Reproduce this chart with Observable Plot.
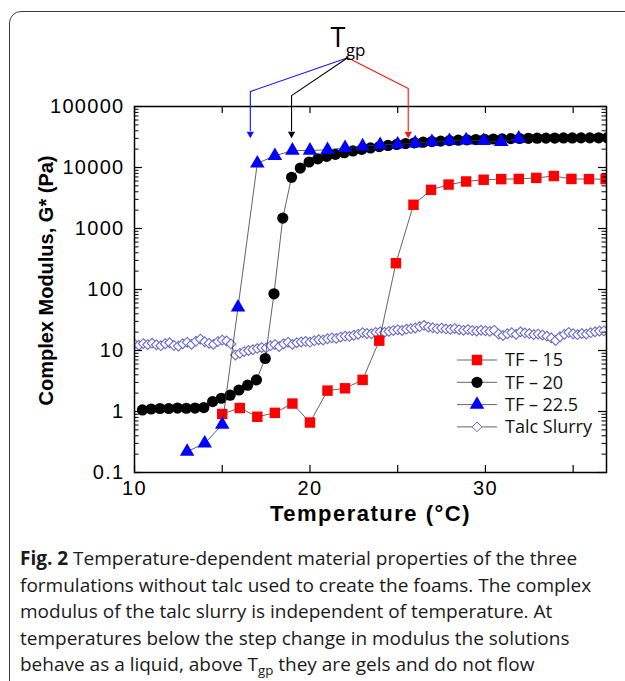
<!DOCTYPE html>
<html><head><meta charset="utf-8">
<script src="https://cdn.jsdelivr.net/npm/d3@7"></script>
<script src="https://cdn.jsdelivr.net/npm/@observablehq/plot@0.6"></script>
<style>
html,body{margin:0;padding:0;background:#fff;}
#wrap{position:relative;width:625px;height:681px;overflow:hidden;background:#fff;}
#border{position:absolute;left:9px;top:11px;width:640px;height:720px;border:1.5px solid #3c3c3c;border-radius:12px;}
#chart{position:absolute;left:0;top:0;}
#legend{position:absolute;left:0;top:0;pointer-events:none;}
#caption{position:absolute;left:20px;top:545px;font-family:"Open Sans",sans-serif;font-size:19px;line-height:26.5px;color:#1a1a1a;white-space:nowrap;}
#caption sub{font-size:0.7em;vertical-align:-0.3em;line-height:0;}
#chart g[aria-label="y-axis tick label"] text{letter-spacing:1.3px;}
#chart g[aria-label="x-axis tick label"] text{letter-spacing:1.3px;}
</style></head>
<body>
<div id="wrap">
  <div id="border"></div>
  <div id="chart"></div>
  <svg id="legend" width="625" height="681"></svg>
  <div id="caption"><b>Fig. 2</b> Temperature-dependent material properties of the three<br>formulations without talc used to create the foams. The complex<br>modulus of the talc slurry is independent of temperature. At<br>temperatures below the step change in modulus the solutions<br>behave as a liquid, above T<sub>gp</sub> they are gels and do not flow</div>
</div>
<script>
// ---------- data ----------
const seriesNames = ["TF – 15", "TF – 20", "TF – 22.5", "Talc Slurry"];

const tf15Temp = [15,16,17,18,19,20,21,22,23,23.95,24.9,25.9,26.9,27.9,28.9,29.9,30.9,31.9,32.9,33.9,34.9,35.9,36.85];
const tf15G    = [0.91,1.14,0.82,0.95,1.35,0.66,2.2,2.4,3.3,14.5,270,2450,4300,5250,5900,6300,6450,6500,6750,7250,6500,6450,6450];

const tf20Temp = [10.45,10.95,11.45,11.95,12.45,12.95,13.45,13.95,14.45,14.95,15.45,15.95,16.45,16.95,17.45,17.95,18.45,18.95,19.45,19.95,
                  20.45,20.95,21.45,21.95,22.45,22.95,23.45,23.95,24.45,24.95,25.45,25.95,26.45,26.95,27.45,27.95,28.45,28.95,29.45,29.95,
                  30.45,30.95,31.45,31.95,32.45,32.95,33.45,33.95,34.45,34.95,35.45,35.95,36.45,36.95];
const tf20G    = [1.06,1.10,1.12,1.12,1.14,1.13,1.14,1.16,1.45,1.65,1.85,2.25,2.7,3.3,7.4,85,1480,6900,9800,12300,
                  13900,15200,16400,17500,18700,19800,20900,22000,23000,23900,24700,25400,26000,26600,27100,27600,28000,28400,28700,29000,
                  29300,29500,29700,29900,30100,30200,30300,30400,30500,30500,30600,30600,30700,30700];

const tf225Temp = [13,14,15,15.9,17,18,19,20,21,22,23,24,25,26,26.95,27.95,28.9,29.9,30.9,31.9];
const tf225G    = [0.22,0.30,0.61,51,11700,15500,19000,19000,19500,21000,22300,23500,24000,25000,26300,27400,28000,27400,26300,29900];

const talcTemp = [10,10.25,10.5,10.75,11,11.25,11.5,11.75,12,12.25,12.5,12.75,13,13.25,13.5,13.75,14,14.25,14.5,14.75,
                  15,15.25,15.5,15.75,16,16.25,16.5,16.75,17,17.25,17.5,17.75,18,18.25,18.5,18.75,19,19.25,19.5,19.75,
                  20,20.25,20.5,20.75,21,21.25,21.5,21.75,22,22.25,22.5,22.75,23,23.25,23.5,23.75,24,24.25,24.5,24.75,
                  25,25.25,25.5,25.75,26,26.25,26.5,26.75,27,27.25,27.5,27.75,28,28.25,28.5,28.75,29,29.25,29.5,29.75,
                  30,30.25,30.5,30.75,31,31.25,31.5,31.75,32,32.25,32.5,32.75,33,33.25,33.5,33.75,34,34.25,34.5,34.75,
                  35,35.25,35.5,35.75,36,36.25,36.5,36.75];
const talcG    = [12.8,12.2,13.0,12.5,13.2,12.4,12.0,12.9,13.4,12.1,11.8,12.9,13.6,12.6,14.2,15.4,13.9,13.1,12.6,14.0,
                  14.8,14.3,12.8,8.4,9.0,9.6,10.0,10.3,10.8,11.2,11.0,12.0,12.5,11.6,12.9,13.6,12.6,13.4,13.8,14.1,
                  13.7,14.5,15.0,14.8,15.6,16.1,15.8,16.6,17.2,17.0,17.8,18.4,19.6,19.0,18.8,19.8,20.2,19.9,20.6,21.2,
                  21.8,21.3,22.4,22.8,23.4,24.6,25.8,24.2,23.6,22.8,23.3,22.6,22.2,22.9,21.9,21.4,22.0,21.2,20.8,21.5,
                  21.0,20.6,21.4,18.6,17.6,18.8,19.6,18.4,20.2,19.4,18.9,18.2,18.6,17.9,17.2,16.1,14.6,16.8,18.4,19.8,
                  18.8,18.2,19.0,18.6,19.6,20.2,20.8,21.0];

// axis ticks
const xDomain = [10, 36.9];
const yDomain = [0.1, 100000];
const xTicks = [10, 20, 30];
const xTickLabels = ["10", "20", "30"];
const xMinorTicks = [10, 15, 20, 25, 30, 35];
const yTicks = [0.1, 1, 10, 100, 1000, 10000, 100000];
const yTickLabels = ["0.1", "1", "10", "100", "1000", "10000", "100000"];
const yMinorTicks = yTicks.slice(0, -1).flatMap(d => [2,3,4,5,6,7,8,9].map(m => d * m));
const xTitle = "Temperature (°C)";
const yTitle = "Complex Modulus, G* (Pa)";

// T_gp annotation (arrow tips point at the gel-point temperatures)
const tgpLabels = ["TF – 22.5", "TF – 20", "TF – 15"];
const tgpTemp   = [16.6, 18.95, 25.6];
const tgpBendG  = [176000, 151000, 197000];
const tgpOrigin = {T: 22.15, G: 630000};
const tgpLineEndG = 40000;
const tgpHeadG = 35500;

// ---------- build ----------
const rows = (temps, vals, name) => temps.map((t, i) => ({T: t, G: vals[i], s: name}));
const d15 = rows(tf15Temp, tf15G, seriesNames[0]);
const d20 = rows(tf20Temp, tf20G, seriesNames[1]);
const d225 = rows(tf225Temp, tf225G, seriesNames[2]);
const dTalc = rows(talcTemp, talcG, seriesNames[3]);

const W = 625, H = 542;
const mL = 134, mR = 19, mT = 106, mB = 70;
const pw = W - mL - mR, ph = H - mT - mB;

const lineStyle = {x: "T", y: "G", stroke: "#3a3a3a", strokeWidth: 0.8, clip: true};
const arrowColors = ["#1010ff", "#000000", "#ff1010"];

const arrowMarks = tgpTemp.flatMap((t, i) => {
  const pts = [{T: tgpOrigin.T, G: tgpOrigin.G}, {T: t, G: tgpBendG[i]}, {T: t, G: tgpLineEndG}];
  return [
    Plot.line(pts, {x: "T", y: "G", stroke: arrowColors[i], strokeWidth: 1.1}),
    Plot.dot([{T: t, G: tgpHeadG}], {x: "T", y: "G", symbol: "triangle", rotate: 180, r: 2.7, fill: arrowColors[i], stroke: "none"})
  ];
});

const plot = Plot.plot({
  width: W, height: H,
  marginLeft: mL, marginRight: mR, marginTop: mT, marginBottom: mB,
  style: {fontFamily: "'Liberation Sans', Arial, sans-serif", fontSize: "20px", background: "transparent", overflow: "visible", color: "#000"},
  x: {domain: xDomain},
  y: {type: "log", domain: yDomain},
  marks: [
    // talc slurry
    Plot.line(dTalc, {...lineStyle, stroke: "#777"}),
    Plot.dot(dTalc, {x: "T", y: "G", symbol: "diamond2", r: 4.4, fill: "white", stroke: "#6a6acc", strokeWidth: 1.1, clip: true}),
    // TF-15
    Plot.line(d15, lineStyle),
    Plot.dot(d15, {x: "T", y: "G", symbol: "square", r: 5.9, fill: "#ff0000", stroke: "none", clip: true}),
    // TF-20
    Plot.line(d20, lineStyle),
    Plot.dot(d20, {x: "T", y: "G", symbol: "circle", r: 5.6, fill: "#000", stroke: "none", clip: true}),
    // TF-22.5
    Plot.line(d225, lineStyle),
    Plot.dot(d225, {x: "T", y: "G", symbol: "triangle", r: 5.4, fill: "#0000ff", stroke: "none", clip: true}),
    // frame & ticks (inward)
    Plot.frame({stroke: "#000", strokeWidth: 1.5}),
    Plot.tickY(yTicks, {y: d => d, insetRight: pw - 8, stroke: "#000", strokeWidth: 1.2}),
    Plot.tickY(yTicks, {y: d => d, insetLeft: pw - 8, stroke: "#000", strokeWidth: 1.2}),
    Plot.tickY(yMinorTicks, {y: d => d, insetRight: pw - 4.5, stroke: "#000", strokeWidth: 1}),
    Plot.tickY(yMinorTicks, {y: d => d, insetLeft: pw - 4.5, stroke: "#000", strokeWidth: 1}),
    Plot.tickX(xMinorTicks, {x: d => d, insetTop: ph - 7, stroke: "#000", strokeWidth: 1.2}),
    Plot.tickX(xMinorTicks, {x: d => d, insetBottom: ph - 7, stroke: "#000", strokeWidth: 1.2}),
    // axes labels
    Plot.axisY(yTicks, {tickSize: 0, tickPadding: 10, label: null, tickFormat: d => yTickLabels[yTicks.indexOf(d)], fontSize: 20}),
    Plot.axisX(xTicks, {tickSize: 0, tickPadding: 8, label: null, tickFormat: d => xTickLabels[xTicks.indexOf(d)], fontSize: 20}),
    Plot.text([yTitle], {frameAnchor: "left", textAnchor: "middle", rotate: -90, dx: -88, dy: -9, fontWeight: "bold", fontSize: 20}),
    Plot.text([xTitle], {frameAnchor: "bottom", textAnchor: "middle", dy: 48, fontWeight: "bold", fontSize: 22}),
    // T_gp annotation
    ...arrowMarks,
    Plot.text(["T"], {x: [21.6], y: [1.32e6], text: d => d, fontFamily: "'Open Sans', sans-serif", fontSize: 27, textAnchor: "middle"}),
    Plot.text(["gp"], {x: [22.04], y: [8.4e5], text: d => d, fontFamily: "'Open Sans', sans-serif", fontSize: 17, textAnchor: "start"})
  ]
});
document.getElementById("chart").appendChild(plot);
// widen the x title a little, as in the reference
d3.select(plot).selectAll("text").filter(function() { return this.textContent === xTitle; })
  .style("letter-spacing", "1.5px");

// ---------- legend ----------
const leg = d3.select("#legend");
const legendSymbols = [
  {sym: d3.symbolSquare, r: 5.9, fill: "#ff0000", stroke: "none"},
  {sym: d3.symbolCircle, r: 5.6, fill: "#000", stroke: "none"},
  {sym: d3.symbolTriangle, r: 5.4, fill: "#0000ff", stroke: "none"},
  {sym: d3.symbolDiamond2, r: 4.4, fill: "#fff", stroke: "#6a6acc"}
];
const legX = 477, legY0 = 360, legDy = 22.3;
seriesNames.forEach((name, i) => {
  const y = legY0 + i * legDy;
  leg.append("line").attr("x1", legX - 20).attr("x2", legX + 20).attr("y1", y).attr("y2", y)
    .attr("stroke", "#555").attr("stroke-width", 0.9);
  const s = legendSymbols[i];
  leg.append("path").attr("transform", `translate(${legX},${y})`)
    .attr("d", d3.symbol(s.sym, Math.PI * s.r * s.r)())
    .attr("fill", s.fill).attr("stroke", s.stroke);
  leg.append("text").attr("x", legX + 28).attr("y", y).attr("dy", "0.35em")
    .attr("font-family", "'Open Sans', sans-serif").attr("font-size", 18).attr("fill", "#111")
    .text(name);
});
</script>
</body></html>
